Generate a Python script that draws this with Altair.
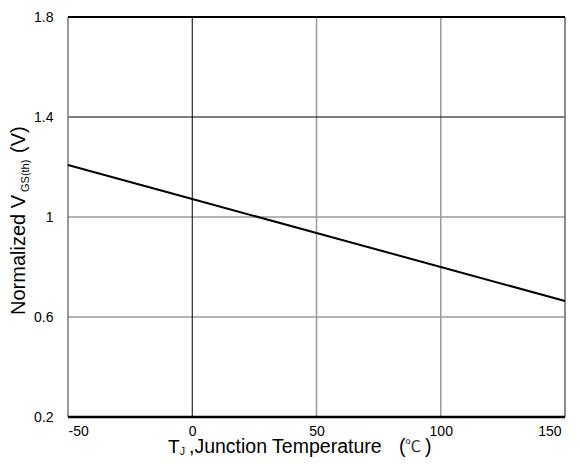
import altair as alt
import pandas as pd

# Data
temps = [-50, 0, 50, 100, 150]
vgs_norm = [1.208, 1.072, 0.936, 0.800, 0.664]

x_ticks = [-50, 0, 50, 100, 150]
y_ticks = [0.2, 0.6, 1.0, 1.4, 1.8]

grid_x_dark = [0]
grid_x_light = [50, 100]
grid_y_dark = [1.4]
grid_y_light = [1.0, 0.6]

FONT = "Liberation Sans"

xscale = alt.Scale(domain=[-50, 150], nice=False, zero=False)
yscale = alt.Scale(domain=[0.2, 1.8], nice=False, zero=False)

line_df = pd.DataFrame({"T": temps, "V": vgs_norm})

base_line = alt.Chart(line_df).mark_line(color="black", strokeWidth=2).encode(
    x=alt.X("T:Q", scale=xscale,
            axis=alt.Axis(values=x_ticks, labelExpr="'' + datum.value", title=None,
                          grid=False, domain=False, ticks=False, tickSize=0,
                          labelFontSize=14, labelFont=FONT, labelColor="black",
                          labelPadding=7,
                          labelOffset={"condition": {"test": "datum.value == 150", "value": -4},
                                       "value": 0})),
    y=alt.Y("V:Q", scale=yscale,
            axis=alt.Axis(values=y_ticks, labelExpr="'' + datum.value", title=None,
                          grid=False, domain=False, ticks=False, tickSize=0,
                          labelFontSize=14, labelFont=FONT, labelColor="black",
                          labelPadding=15)),
)

def vrules(vals, color, width):
    return alt.Chart(pd.DataFrame({"x": vals})).mark_rule(color=color, strokeWidth=width).encode(
        x=alt.X("x:Q", scale=xscale))

def hrules(vals, color, width):
    return alt.Chart(pd.DataFrame({"y": vals})).mark_rule(color=color, strokeWidth=width).encode(
        y=alt.Y("y:Q", scale=yscale))

layers = [
    vrules(grid_x_light, "#9a9a9a", 1.5),
    hrules(grid_y_light, "#9a9a9a", 1.5),
    vrules(grid_x_dark, "black", 1),
    hrules(grid_y_dark, "black", 1.2),
    vrules([x_ticks[0]], "#777777", 1.5),
    vrules([x_ticks[-1]], "#666666", 1.5),
    hrules([y_ticks[-1]], "black", 2),
    hrules([y_ticks[0]], "black", 2.5),
    base_line,
]

def text(s, x, y, size, angle=0, font=FONT, color="black"):
    kw = dict(align="left", baseline="alphabetic", font=font, fontSize=size, color=color)
    if angle:
        kw["angle"] = angle
    return alt.Chart(pd.DataFrame({"t": [s]})).mark_text(**kw).encode(
        text="t:N", x=alt.value(x), y=alt.value(y))

# y title pieces (rotated)
layers += [
    text("Normalized V", -43, 298, 20, 270),
    text("GS(th)", -39.5, 175, 11, 270),
    text("(V)", -43, 136, 20, 270),
]
# x title pieces
layers += [
    text("T", 100, 436, 19),
    text("J", 112, 438, 10),
    text(",Junction Temperature", 121, 436, 19.5),
    text("(", 331, 436, 19.5),
    text("\u2103", 337, 435, 16, font="Noto Sans CJK JP", color="#333333"),
    text(")", 357, 436, 19.5),
]

chart = alt.layer(*layers).properties(
    width=497, height=400,
    autosize=alt.AutoSizeParams(type="none"),
    padding={"left": 60, "top": 9, "right": 7, "bottom": 40},
    background="white",
).configure_view(stroke=None)

chart.save("out.html", embed_options={"renderer": "svg", "actions": False})
